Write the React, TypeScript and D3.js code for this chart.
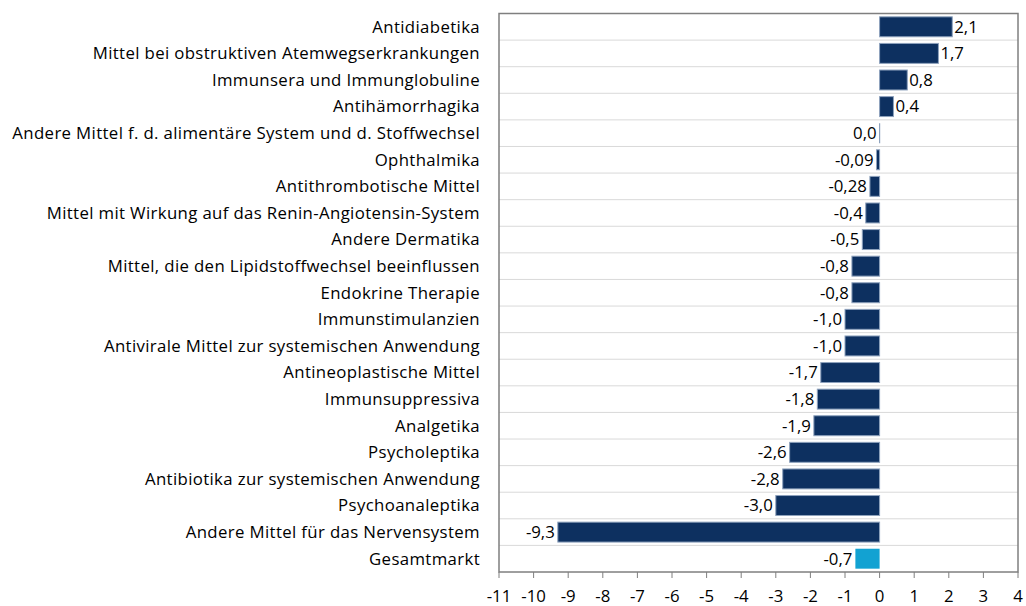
import React from "react";
import * as d3 from "d3";

const categories = [
  "Antidiabetika",
  "Mittel bei obstruktiven Atemwegserkrankungen",
  "Immunsera und Immunglobuline",
  "Antihämorrhagika",
  "Andere Mittel f. d. alimentäre System und d. Stoffwechsel",
  "Ophthalmika",
  "Antithrombotische Mittel",
  "Mittel mit Wirkung auf das Renin-Angiotensin-System",
  "Andere Dermatika",
  "Mittel, die den Lipidstoffwechsel beeinflussen",
  "Endokrine Therapie",
  "Immunstimulanzien",
  "Antivirale Mittel zur systemischen Anwendung",
  "Antineoplastische Mittel",
  "Immunsuppressiva",
  "Analgetika",
  "Psycholeptika",
  "Antibiotika zur systemischen Anwendung",
  "Psychoanaleptika",
  "Andere Mittel für das Nervensystem",
  "Gesamtmarkt",
];
const values = [2.1, 1.7, 0.8, 0.4, 0.0, -0.09, -0.28, -0.4, -0.5, -0.8, -0.8, -1.0, -1.0, -1.7, -1.8, -1.9, -2.6, -2.8, -3.0, -9.3, -0.7];
const valueLabels = ["2,1", "1,7", "0,8", "0,4", "0,0", "-0,09", "-0,28", "-0,4", "-0,5", "-0,8", "-0,8", "-1,0", "-1,0", "-1,7", "-1,8", "-1,9", "-2,6", "-2,8", "-3,0", "-9,3", "-0,7"];
const tickValues = [-11, -10, -9, -8, -7, -6, -5, -4, -3, -2, -1, 0, 1, 2, 3, 4];

const W = 1026;
const H = 606;
const left = 499;
const right = 1018;
const top = 13.5;
const bottom = 572;
const FONT = "'Open Sans', sans-serif";
const FS = 16.8;
const LS = 0.36;

export default function App() {
  const x = d3.scaleLinear().domain([-11, 4]).range([left, right]);
  const y = d3.scaleBand<string>().domain(categories).range([top, bottom]).paddingInner(0.25).paddingOuter(0.125);
  const step = y.step();
  return (
    <svg width={W} height={H} style={{ position: "absolute", left: 0, top: 0 }}>
      <rect width={W} height={H} fill="#fff" />
      {categories.slice(1).map((c, i) => {
        const yy = top + step * (i + 1);
        return <line key={c} x1={left} x2={right} y1={yy} y2={yy} stroke="#d9d9d9" strokeWidth={1} />;
      })}
      <rect x={left} y={top} width={right - left} height={bottom - top} fill="none" stroke="#7f7f7f" strokeWidth={1.5} />
      {categories.map((c, i) => {
        const v = values[i];
        const x0 = x(Math.min(0, v));
        const x1 = x(Math.max(0, v));
        const yb = y(c)!;
        const isTotal = c === "Gesamtmarkt";
        const fill = isTotal ? "#12a2d2" : "#0d3060";
        const cy = yb + y.bandwidth() / 2;
        return (
          <g key={c}>
            {x1 - x0 > 0 ? (
              <rect x={x0} y={yb} width={x1 - x0} height={y.bandwidth()} fill={fill} stroke={isTotal ? "none" : "#8ea2bd"} strokeWidth={1} />
            ) : (
              <line x1={x0} x2={x0} y1={yb} y2={yb + y.bandwidth()} stroke="#8ea2bd" strokeWidth={1.2} />
            )}
            <text x={v > 0 ? x1 + 2 : x0 - 3} y={cy} dy="0.35em" textAnchor={v > 0 ? "start" : "end"} fontFamily={FONT} fontSize={FS} fill="#000">
              {valueLabels[i]}
            </text>
            <text x={480} y={cy} dy="0.35em" textAnchor="end" fontFamily={FONT} fontSize={FS} letterSpacing={LS} fill="#000">
              {c}
            </text>
          </g>
        );
      })}
      {tickValues.map((t) => (
        <g key={t}>
          <line x1={x(t)} x2={x(t)} y1={bottom} y2={bottom + 6} stroke="#7f7f7f" />
          <text x={x(t)} y={596} dy="0.35em" textAnchor="middle" fontFamily={FONT} fontSize={FS} fill="#000">
            {String(t)}
          </text>
        </g>
      ))}
    </svg>
  );
}
